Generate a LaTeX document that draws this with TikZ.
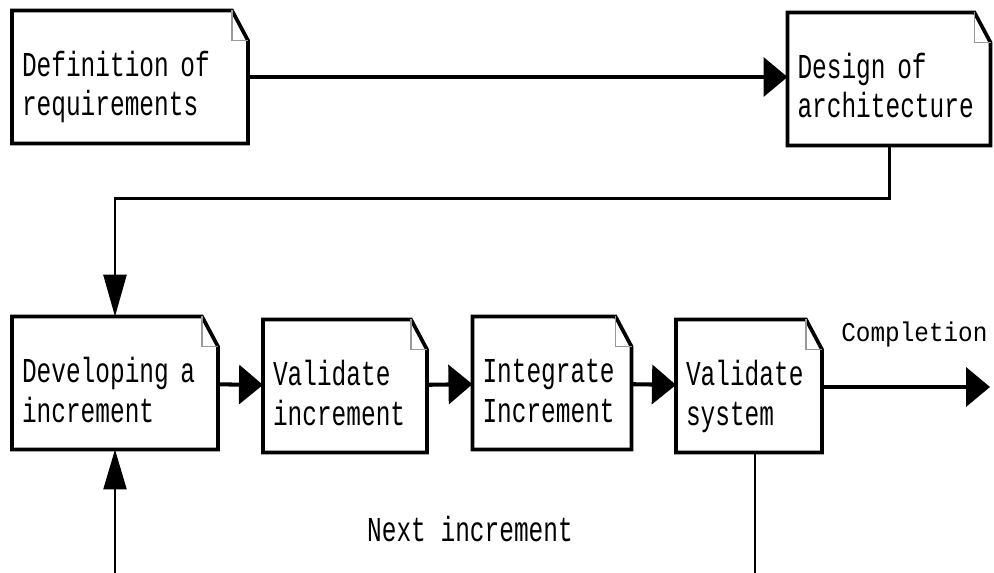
\documentclass[tikz,border=0pt]{standalone}
\usepackage{fontspec}
\newfontfamily\notefont{Liberation Mono}[FakeStretch=0.7]
\newfontfamily\tagfont{Liberation Mono}[FakeStretch=0.9]
\usetikzlibrary{arrows.meta, calc}

% Define the note geometry (in pixels of the picture grid)
\def\foldx{16}
\def\foldy{30}
\def\boxheight{133}
\def\padx{10}

\tikzset{
    notebox/.style={minimum height=\boxheight*0.02cm, inner ysep=0pt, inner xsep=\padx*0.02cm,
        outer sep=0pt, align=left, font=\notefont\fontsize{19.9}{22.2}\selectfont,
        text height=0.9cm, text depth=0.9cm},
    boxline/.style={line width=2.1pt, line join=miter},
    foldline/.style={line width=0.8pt, gray!80},
    flow/.style={line width=2.3pt, -{Triangle[length=0.48cm,width=0.78cm]}},
    downflow/.style={line width=1.7pt, -{Triangle[length=0.84cm,width=0.46cm]}},
    loopflow/.style={line width=1.4pt, -{Triangle[length=0.8cm,width=0.46cm]}},
    tagtext/.style={font=\tagfont\fontsize{15.4}{18}\selectfont, inner sep=0pt},
    nexttext/.style={font=\notefont\fontsize{19.9}{22.2}\selectfont, inner sep=0pt}
}

\begin{document}
\begin{tikzpicture}[x=0.02cm, y=-0.02cm]
\useasboundingbox (0,0) rectangle (994,573);

% Draw the six notes with their folded corner
\foreach \name/\x/\y/\w/\txt in {
    req/130/77/236/{Definition of\\requirements},
    arch/889/79/203/{Design of\\architecture},
    dev/115/383/206/{Developing a\\increment},
    valinc/345/386/164/{Validate\\increment},
    integ/552/383/159/{Integrate\\Increment},
    valsys/749/386/146/{Validate\\system}} {
    \node[notebox, text width=\w*0.02cm-2*\padx*0.02cm] (\name) at (\x,\y) {\txt};
    \draw[boxline] (\name.south west) -- (\name.north west)
        -- ($(\name.north east)+(-\foldx,0)$) -- ($(\name.north east)+(0,\foldy)$)
        -- (\name.south east) -- cycle;
    \draw[foldline] ($(\name.north east)+(-\foldx,0)$) |- ($(\name.north east)+(0,\foldy)$);
}

% Top row
\draw[flow] (req.east) -- (req.east -| arch.west);

% Down to the first increment
\draw[downflow] (arch.south) -- ++(0,53) -| (dev.north);

% Bottom row
\draw[flow] (dev) -- (valinc);
\draw[flow] (valinc) -- (integ);
\draw[flow] (integ) -- (valsys);

% Way out
\coordinate (done) at (990,387);
\draw[flow] (valsys.east |- done) -- node[tagtext, pos=0.55, above=0.76cm] (compl) {Completion} (done);

% Loop back (runs below the lower edge)
\coordinate (loopend) at (500,600);
\draw[loopflow] ([xshift=0.12cm]valsys.south) |- (loopend) -| (dev.south);
\node[nexttext] (nextinc) at (470,529) {Next increment};

\end{tikzpicture}
\end{document}
